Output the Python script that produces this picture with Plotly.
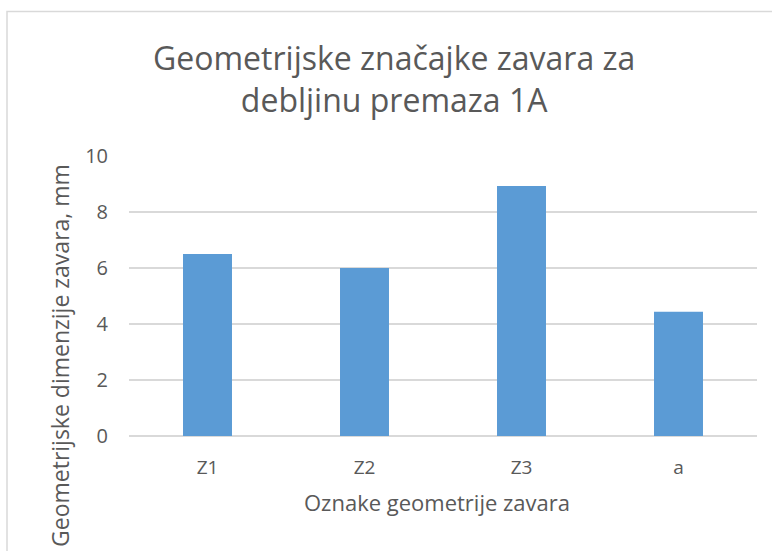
import plotly.graph_objects as go

# Weld geometry measurements
categories = ["Z1", "Z2", "Z3", "a"]
values = [6.5, 6.0, 8.93, 4.44]
y_ticks = [0, 2, 4, 6, 8, 10]

title_text = "Geometrijske značajke zavara za<br>debljinu premaza 1A"
x_title = "Oznake geometrije zavara"
y_title = "Geometrijske dimenzije zavara, mm"

W, H = 772, 551
ML, MR, MT, MB = 129, 15, 156, 115
PW, PH = W - ML - MR, H - MT - MB

FONT = "Open Sans"
GREY_TEXT = "#595959"
GRID = "#D9D9D9"
BAR = "#5B9BD5"


def px_x(px):
    return (px - ML) / PW


def px_y(py):
    return (H - MB - py) / PH


fig = go.Figure(
    go.Bar(
        x=categories,
        y=values,
        marker=dict(color=BAR, line=dict(width=0)),
        hoverinfo="x+y",
    )
)

fig.update_layout(
    width=W,
    height=H,
    margin=dict(l=ML, r=MR, t=MT, b=MB, pad=0),
    paper_bgcolor="white",
    plot_bgcolor="white",
    bargap=0.688,
    showlegend=False,
    font=dict(family=FONT, color=GREY_TEXT),
    xaxis=dict(
        type="category",
        showgrid=False,
        showline=False,
        ticks="",
        tickfont=dict(size=19, color=GREY_TEXT),
        ticklabelstandoff=18,
    ),
    yaxis=dict(
        range=[0, 10],
        tickvals=y_ticks,
        showgrid=True,
        gridcolor=GRID,
        gridwidth=1.5,
        zeroline=True,
        zerolinecolor=GRID,
        zerolinewidth=1.5,
        showline=False,
        ticks="",
        tickfont=dict(size=20, color=GREY_TEXT),
        ticklabelstandoff=20,
    ),
    annotations=[
        dict(
            text=title_text,
            x=px_x(394), y=px_y(78),
            xref="paper", yref="paper",
            xanchor="center", yanchor="middle",
            showarrow=False,
            font=dict(size=32, color=GREY_TEXT, family=FONT),
        ),
        dict(
            text=x_title,
            x=px_x(437), y=px_y(502),
            xref="paper", yref="paper",
            xanchor="center", yanchor="middle",
            showarrow=False,
            font=dict(size=22, color=GREY_TEXT, family=FONT),
        ),
        dict(
            text=y_title,
            x=px_x(60), y=px_y(356),
            xref="paper", yref="paper",
            xanchor="center", yanchor="middle",
            textangle=-90,
            showarrow=False,
            font=dict(size=23, color=GREY_TEXT, family=FONT),
        ),
    ],
    shapes=[
        dict(
            type="rect",
            xref="paper", yref="paper",
            x0=px_x(7), x1=px_x(790),
            y0=px_y(11.5), y1=px_y(580),
            line=dict(color=GRID, width=1.5),
            fillcolor="rgba(0,0,0,0)",
            layer="below",
        )
    ],
)

fig.write_html("out.html")
